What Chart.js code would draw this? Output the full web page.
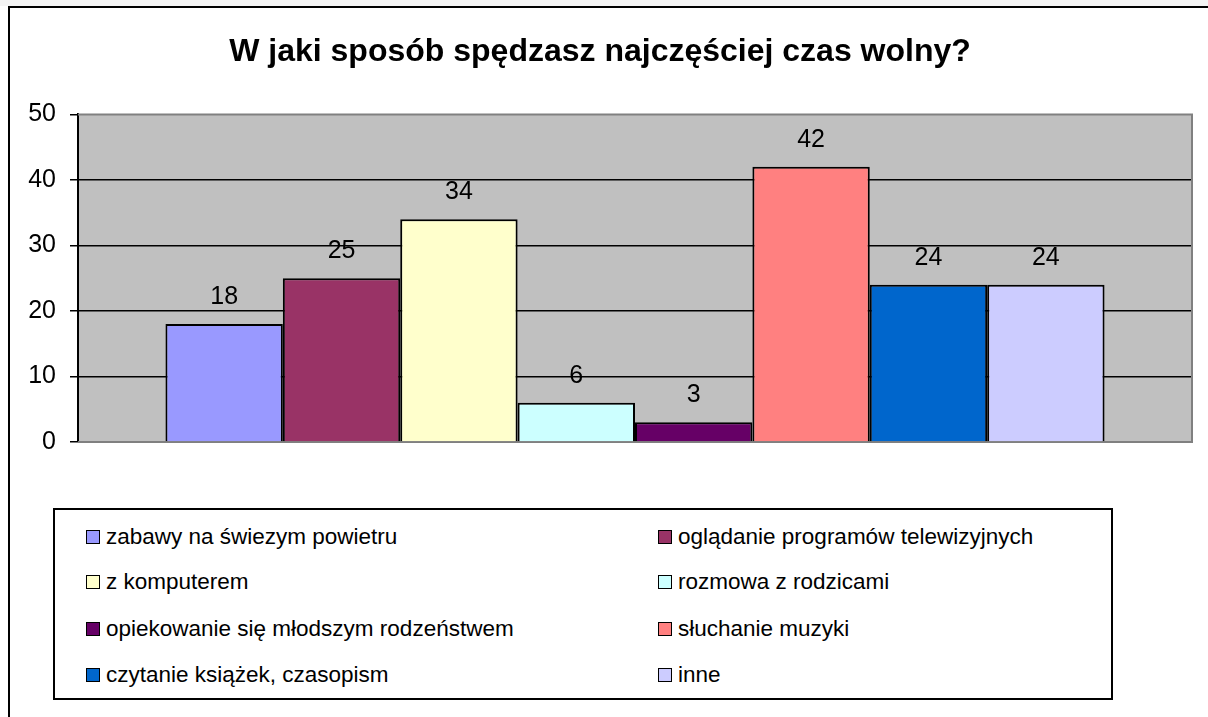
<!DOCTYPE html>
<html>
<head>
<meta charset="utf-8">
<script src="https://cdn.jsdelivr.net/npm/chart.js@4.4.1/dist/chart.umd.min.js"></script>
<style>
  html, body { margin: 0; padding: 0; background: #ffffff; }
  #wrap { position: relative; width: 1208px; height: 717px; overflow: hidden; background: #fff; }
  #topband { position: absolute; left: 0; top: 0; width: 1208px; height: 6px; background: #f4f4f4; }
  #frame { position: absolute; left: 8px; top: 6px; width: 1220px; height: 730px; border-left: 2px solid #000; border-top: 2px solid #000; box-sizing: border-box; }
  canvas { position: absolute; left: 0; top: 0; }
  #legend { position: absolute; left: 53px; top: 508px; width: 1060px; height: 192px; border: 2px solid #000; box-sizing: border-box; background: #fff;
            font-family: "Liberation Sans", Arial, sans-serif; font-size: 22.5px; color: #000; }
  .item { position: absolute; display: flex; align-items: center; white-space: nowrap; height: 30px; }
  .sw { width: 12px; height: 12px; border: 1.5px solid #000; margin-right: 6px; }
</style>
</head>
<body>
<div id="wrap">
  <div id="topband"></div>
  <div id="frame"></div>
  <canvas id="c" width="1208" height="717"></canvas>
  <div id="legend"></div>
</div>
<script>
const title = "W jaki sposób spędzasz najczęściej czas wolny?";
const categories = [""];
const seriesNames = [
  "zabawy na świezym powietru",
  "oglądanie programów telewizyjnych",
  "z komputerem",
  "rozmowa z rodzicami",
  "opiekowanie się młodszym rodzeństwem",
  "słuchanie muzyki",
  "czytanie książek, czasopism",
  "inne"
];
const seriesValues = [18, 25, 34, 6, 3, 42, 24, 24];
const seriesColors = ["#9999FF", "#993366", "#FFFFCC", "#CCFFFF", "#660066", "#FF8080", "#0066CC", "#CCCCFF"];
const yTicks = [0, 10, 20, 30, 40, 50];

const FONT = '"Liberation Sans", Arial, sans-serif';

const plotBg = {
  id: 'plotBg',
  beforeDraw(chart) {
    const {ctx, chartArea: a} = chart;
    ctx.save();
    ctx.fillStyle = '#C0C0C0';
    ctx.fillRect(a.left, a.top, a.right - a.left, a.bottom - a.top);
    ctx.restore();
  },
  beforeDatasetsDraw(chart) {
    const {ctx, chartArea: a} = chart;
    ctx.save();
    ctx.strokeStyle = '#808080';
    ctx.lineWidth = 2;
    ctx.beginPath();
    ctx.moveTo(a.left, a.top);
    ctx.lineTo(a.right, a.top);
    ctx.lineTo(a.right, a.bottom);
    ctx.lineTo(a.left, a.bottom);
    ctx.stroke();
    ctx.restore();
  }
};

const valueLabels = {
  id: 'valueLabels',
  afterDatasetsDraw(chart) {
    const {ctx} = chart;
    ctx.save();
    ctx.font = '25px ' + FONT;
    ctx.fillStyle = '#000';
    ctx.textAlign = 'center';
    ctx.textBaseline = 'middle';
    chart.data.datasets.forEach((ds, i) => {
      const meta = chart.getDatasetMeta(i);
      meta.data.forEach((bar, j) => {
        ctx.fillText(String(ds.data[j]), bar.x, bar.y - 27);
      });
    });
    ctx.restore();
  }
};

const datasets = seriesNames.map((name, i) => ({
  label: name,
  data: [seriesValues[i]],
  backgroundColor: seriesColors[i],
  borderColor: '#000',
  borderWidth: 2,
  categoryPercentage: 0.843,
  barPercentage: 1.0
}));

new Chart(document.getElementById('c'), {
  type: 'bar',
  data: { labels: categories, datasets },
  options: {
    responsive: false,
    devicePixelRatio: 1,
    animation: false,
    layout: { padding: { left: 8, right: 16, top: 0, bottom: 275 } },
    plugins: {
      legend: { display: false },
      tooltip: { enabled: false },
      title: {
        display: true,
        text: title,
        color: '#000',
        font: { family: FONT, size: 32, weight: 'bold', lineHeight: 1.2 },
        padding: { top: 33, bottom: 43 }
      }
    },
    scales: {
      x: { display: false },
      y: {
        min: 0, max: 50,
        afterFit(scale) { scale.width = 70; },
        afterBuildTicks(scale) { scale.ticks = yTicks.map(v => ({ value: v })); },
        ticks: { color: '#000', font: { family: FONT, size: 25 }, padding: 14 },
        grid: {
          color: (c) => (c.tick && (c.tick.value === 0 || c.tick.value === 50)) ? 'rgba(0,0,0,0)' : '#000',
          tickColor: '#000',
          lineWidth: 1.5,
          tickLength: 8
        },
        border: { display: true, color: '#000', width: 2 }
      }
    }
  },
  plugins: [plotBg, valueLabels]
});

// Legend (two columns, four rows)
const legend = document.getElementById('legend');
const colX = [31, 603];
const rowY = [12, 57, 104, 150];
seriesNames.forEach((name, i) => {
  const el = document.createElement('div');
  el.className = 'item';
  el.style.left = colX[i % 2] + 'px';
  el.style.top = rowY[Math.floor(i / 2)] + 'px';
  const sw = document.createElement('span');
  sw.className = 'sw';
  sw.style.background = seriesColors[i];
  const tx = document.createElement('span');
  tx.textContent = name;
  el.appendChild(sw);
  el.appendChild(tx);
  legend.appendChild(el);
});
</script>
</body>
</html>
